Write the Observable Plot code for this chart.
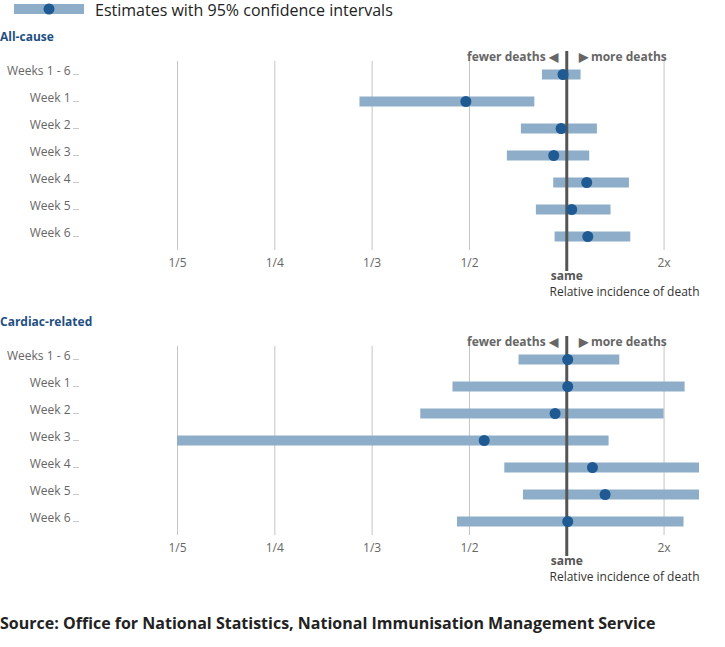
<!DOCTYPE html>
<html>
<head>
<meta charset="utf-8">
<script src="https://cdn.jsdelivr.net/npm/d3@7"></script>
<script src="https://cdn.jsdelivr.net/npm/@observablehq/plot@0.6"></script>
<style>
  body { margin: 0; font-family: "Open Sans", sans-serif; background: #fff; }
  #wrap { position: relative; width: 725px; height: 647px; }
  .abs { position: absolute; left: 0; }
  .title { font-size: 12px; font-weight: 700; color: #1f4f82; line-height: 16px; }
  #source { font-size: 16px; font-weight: 700; color: #222; line-height: 22px; white-space: nowrap; }
</style>
</head>
<body>
<div id="wrap">
  <div id="legend" class="abs" style="top:0"></div>
  <div class="abs title" style="top:29px">All-cause</div>
  <div id="p1" class="abs" style="top:45px"></div>
  <div class="abs title" style="top:314px">Cardiac-related</div>
  <div id="p2" class="abs" style="top:330px"></div>
  <div id="source" class="abs" style="top:612px">Source: Office for National Statistics, National Immunisation Management Service</div>
</div>
<script>
const weeks = ["Weeks 1 - 6", "Week 1", "Week 2", "Week 3", "Week 4", "Week 5", "Week 6"];

const allCauseEst = [0.963, 0.491, 0.945, 0.882, 1.205, 1.051, 1.216];
const allCauseLo  = [0.80, 0.32, 0.682, 0.621, 0.882, 0.762, 0.893];
const allCauseHi  = [1.147, 0.753, 1.315, 1.236, 1.644, 1.455, 1.658];

const cardiacEst = [1.01, 1.01, 0.893, 0.541, 1.264, 1.394, 1.01];
const cardiacLo  = [0.671, 0.461, 0.400, 0.19, 0.611, 0.692, 0.471];
const cardiacHi  = [1.545, 2.216, 2.0, 1.435, 2.6, 2.5, 2.205];

const tickValues = [0.2, 0.25, 1/3, 0.5, 2];
const tickLabels = ["1/5", "1/4", "1/3", "1/2", "2x"];

// ratio scale: 1/n evenly spaced below 1, linear above 1
const f = v => v >= 1 ? v - 1 : 1 - 1 / v;
const labelFor = t => {
  const i = tickValues.findIndex(v => Math.abs(f(v) - t) < 1e-9);
  return i >= 0 ? tickLabels[i] : "";
};

const BAR = "#8eadc8", DOT = "#1f5a92";

function panel(est, lo, hi) {
  const data = weeks.map((w, i) => ({week: w, est: est[i], lo: lo[i], hi: hi[i]}));
  return Plot.plot({
    width: 725,
    height: 255,
    marginLeft: 177,
    marginRight: 26,
    marginTop: 16,
    marginBottom: 50,
    x: {domain: [f(0.2), f(2.364)], label: null},
    y: {type: "point", domain: weeks, padding: 0, insetTop: 12, insetBottom: 13, label: null},
    style: {fontFamily: "Open Sans", fontSize: "12px", color: "#666", overflow: "visible", background: "transparent"},
    marks: [
      Plot.ruleX(tickValues, {x: f, stroke: "#c4c4c4", strokeWidth: 1}),
      Plot.axisX(tickValues.map(f), {tickSize: 0, tickPadding: 8, tickFormat: labelFor, fill: "#666", label: null}),
      Plot.axisY({tickSize: 6, tickPadding: 0, dx: -98, tickFormat: () => "", stroke: "#c8c8c8", label: null}),
      Plot.axisY({tickSize: 0, tickPadding: 9, dx: -98, dy: -3, fill: "#666", label: null}),
      Plot.ruleY(data, {y: "week", x1: d => f(d.lo), x2: d => f(d.hi), stroke: BAR, strokeWidth: 10, clip: true}),
      Plot.ruleX([1], {x: f, stroke: "#555", strokeWidth: 3, insetTop: -10, insetBottom: -21}),
      Plot.dot(data, {x: d => f(d.est), y: "week", r: 5.5, fill: DOT, stroke: "none"}),
      Plot.text([1], {x: f, text: () => "fewer deaths \u25C0", frameAnchor: "top", dy: -4, dx: -9, textAnchor: "end", lineAnchor: "middle", fontWeight: "bold", fill: "#666"}),
      Plot.text([1], {x: f, text: () => "\u25B6 more deaths", frameAnchor: "top", dy: -4, dx: 12, textAnchor: "start", lineAnchor: "middle", fontWeight: "bold", fill: "#666"}),
      Plot.text([1], {x: f, text: () => "same", frameAnchor: "bottom", dy: 26, lineAnchor: "middle", fontWeight: "bold", fill: "#555"}),
      Plot.text(["Relative incidence of death"], {text: d => d, frameAnchor: "bottom-right", textAnchor: "end", dy: 42, lineAnchor: "middle", fill: "#333"})
    ]
  });
}

document.getElementById("p1").append(panel(allCauseEst, allCauseLo, allCauseHi));
document.getElementById("p2").append(panel(cardiacEst, cardiacLo, cardiacHi));

// legend
const ns = "http://www.w3.org/2000/svg";
const lg = document.createElementNS(ns, "svg");
lg.setAttribute("width", 420); lg.setAttribute("height", 22);
lg.innerHTML = `<rect x="14" y="4" width="70" height="10" fill="${BAR}"></rect>
<circle cx="49" cy="9" r="5.5" fill="${DOT}"></circle>
<text x="95" y="10" dominant-baseline="central" font-family="Open Sans" font-size="16" fill="#222">Estimates with 95% confidence intervals</text>`;
document.getElementById("legend").append(lg);
</script>
</body>
</html>
